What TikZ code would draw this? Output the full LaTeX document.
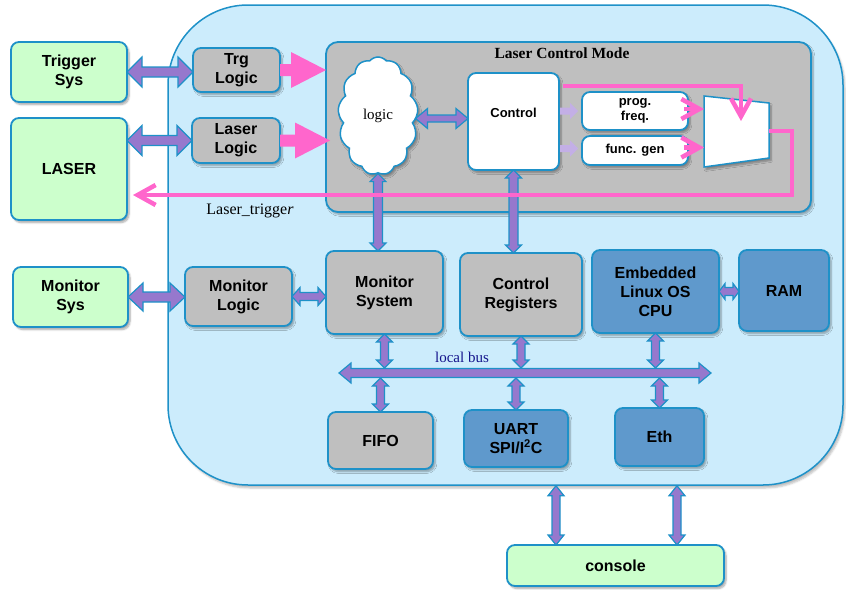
\documentclass[tikz,border=0pt]{standalone}
\usepackage{fontspec}
\setmainfont{Liberation Serif}
\setsansfont{Liberation Sans}
\usetikzlibrary{arrows.meta,calc,shapes.symbols,shadows.blur}
\definecolor{bluebrd}{RGB}{30,145,200}
\definecolor{socfill}{RGB}{204,236,252}
\definecolor{grnfill}{RGB}{204,255,204}
\definecolor{gryfill}{RGB}{191,191,191}
\definecolor{dkbfill}{RGB}{95,153,204}
\definecolor{purp}{RGB}{150,120,205}
\definecolor{pinkc}{RGB}{255,102,204}
\definecolor{lavc}{RGB}{195,175,230}
\definecolor{navyc}{RGB}{20,20,140}

% horizontal double fat arrow: style, start, end, half shaft, half head, head length
\newcommand\FatDbl[6]{\path[#1] let \p1=#2, \p2=#3 in
 (\x1,\y1) -- (\x1+#6,\y1+#5) -- (\x1+#6,\y1+#4) -- (\x2-#6,\y1+#4) -- (\x2-#6,\y1+#5) -- (\x2,\y1)
 -- (\x2-#6,\y1-#5) -- (\x2-#6,\y1-#4) -- (\x1+#6,\y1-#4) -- (\x1+#6,\y1-#5) -- cycle;}
% vertical double fat arrow: start is upper end
\newcommand\FatDblV[6]{\path[#1] let \p1=#2, \p2=#3 in
 (\x1,\y1) -- (\x1+#5,\y1-#6) -- (\x1+#4,\y1-#6) -- (\x1+#4,\y2+#6) -- (\x1+#5,\y2+#6) -- (\x1,\y2)
 -- (\x1-#5,\y2+#6) -- (\x1-#4,\y2+#6) -- (\x1-#4,\y1-#6) -- (\x1-#5,\y1-#6) -- cycle;}
% horizontal single fat arrow
\newcommand\FatOne[6]{\path[#1] let \p1=#2, \p2=#3 in
 (\x1,\y1+#4) -- (\x2-#6,\y1+#4) -- (\x2-#6,\y1+#5) -- (\x2,\y1) -- (\x2-#6,\y1-#5) -- (\x2-#6,\y1-#4) -- (\x1,\y1-#4) -- cycle;}

\begin{document}
\begin{tikzpicture}[x=1pt,y=-1pt,
  shad/.style={blur shadow={shadow xshift=2pt, shadow yshift=-2.5pt, shadow blur steps=6, shadow opacity=35}},
  box/.style={draw=bluebrd, line width=1.8pt, rounded corners=8pt, inner sep=0pt, outer sep=0pt,
    align=center, font=\sffamily\bfseries\fontsize{16}{19}\selectfont, shad},
  grn/.style={box, fill=grnfill},
  gry/.style={box, fill=gryfill},
  dkb/.style={box, fill=dkbfill},
  wht/.style={box, fill=white, font=\sffamily\bfseries\fontsize{13}{15}\selectfont},
  sz/.style 2 args={minimum width=#1pt, minimum height=#2pt},
  dbl/.style={fill=purp, draw=bluebrd, line width=1.2pt, line join=miter},
  pinkfat/.style={fill=pinkc},
  lav/.style={fill=lavc},
  pinkline/.style={draw=pinkc, line width=4.5pt},
  pbarb/.tip={Straight Barb[length=18pt,width=20pt]},
  sbarb/.tip={Straight Barb[length=18pt,width=20pt]}
]
\useasboundingbox (0,0) rectangle (846,589);

% container
\node[draw=bluebrd, fill=socfill, line width=1.5pt, rounded corners=80pt, inner sep=0pt,
  sz={675}{480}, blur shadow={shadow xshift=2pt, shadow yshift=-3pt, shadow opacity=25}] (soc) at (505.5,245) {};

% laser control mode
\node[box, fill=gryfill, rounded corners=12pt, sz={485}{170}] (lcm) at (568.5,127) {};
\node[font=\bfseries\fontsize{15.5}{18}\selectfont] (lcmtitle) at (562,53) {Laser Control Mode};

% left boxes
\node[grn, sz={116}{60}] (trgsys) at (69,72) {Trigger\\Sys};
\node[grn, sz={116}{102}] (laser) at (69,169) {LASER};
\node[grn, sz={115}{60}] (monsys) at (70.5,297) {Monitor\\Sys};
\node[gry, sz={87}{44}] (trglogic) at (236.5,70) {Trg\\Logic};
\node[gry, sz={88}{45}] (laserlogic) at (236,140.5) {Laser\\Logic};
\node[gry, sz={107}{59}] (monlogic) at (238.5,296.5) {Monitor\\Logic};

% inside laser control mode
\node[cloud, draw=bluebrd, fill=white, line width=1.5pt, cloud puffs=13, cloud puff arc=100,
  cloud ignores aspect, sz={80}{118}, inner sep=0pt, shad, font=\fontsize{15}{18}\selectfont] (cloud) at (378,116) {logic};
\node[wht, sz={91}{97}, label={[font=\sffamily\bfseries\fontsize{13}{15}\selectfont, yshift=9pt]center:Control}] (control) at (513.5,121.5) {};
\node[wht, sz={106}{38}] (prog) at (635,111) {prog.\\freq.};
\node[wht, sz={106}{29}] (func) at (635,150.5) {func. gen};
\draw[fill=white, draw=bluebrd, line width=1.5pt, shad] (704,96) -- (769,103) -- (769,158) -- (704,167) -- cycle;
\coordinate (muxL) at (704,0);
\coordinate (muxout) at (769,131);
\coordinate (muxtop) at (741,121);
\coordinate (retC) at (792,195);

% middle row
\node[gry, sz={117}{83}] (monsystem) at (384.5,292.5) {Monitor\\System};
\node[gry, sz={122}{83}] (ctrlreg) at (521,294.5) {Control\\Registers};
\node[dkb, sz={127}{83}] (cpu) at (655.5,291.5) {Embedded\\Linux OS\\CPU};
\node[dkb, sz={90}{81}] (ram) at (784,290.5) {RAM};

% bottom row
\node[gry, sz={105}{57}] (fifo) at (380.5,440.5) {FIFO};
\node[dkb, sz={104}{57}] (uart) at (516,438.5) {UART\\SPI/I\textsuperscript{2}C};
\node[dkb, sz={89}{58}] (eth) at (659.5,437) {Eth};
\node[grn, sz={217}{41}] (console) at (615.5,565.5) {console};

% bus
\coordinate (busL) at (339,373);
\coordinate (busR) at (711,373);
\FatDbl{dbl}{(busL)}{(busR)}{4.5pt}{10pt}{12pt}
\node[text=navyc, font=\fontsize{15}{18}\selectfont] (lb) at (462,357) {local bus};

% purple connectors
\FatDbl{dbl}{(trgsys.east)}{(trglogic.west)}{5pt}{15pt}{15pt}
\FatDbl{dbl}{(laser.east |- laserlogic.west)}{(laserlogic.west)}{5pt}{15pt}{15pt}
\FatDbl{dbl}{(monsys.east)}{(monlogic.west)}{5pt}{14pt}{15pt}
\FatDbl{dbl}{(monlogic.east)}{(monsystem.west)}{4pt}{9pt}{8pt}
\FatDbl{dbl}{($(cloud.east |- control.west)+(-2,-3)$)}{($(control.west)+(0,-3)$)}{3.5pt}{10pt}{12pt}
\FatDbl{dbl}{(cpu.east)}{(ram.west)}{4pt}{8pt}{6pt}

\FatDblV{dbl}{(cloud.south)}{(cloud.south |- monsystem.north)}{4.5pt}{8pt}{8pt}
\FatDblV{dbl}{(control.south)}{(control.south |- ctrlreg.north)}{4.5pt}{8pt}{8pt}
\FatDblV{dbl}{(monsystem.south)}{($(monsystem.south |- busL)+(0,-5)$)}{4pt}{8pt}{8pt}
\FatDblV{dbl}{(ctrlreg.south)}{($(ctrlreg.south |- busL)+(0,-5)$)}{4pt}{8pt}{8pt}
\FatDblV{dbl}{(cpu.south)}{($(cpu.south |- busL)+(0,-5)$)}{4pt}{8pt}{8pt}
\FatDblV{dbl}{($(fifo.north |- busL)+(0,5)$)}{(fifo.north)}{4pt}{8pt}{8pt}
\FatDblV{dbl}{($(uart.north |- busL)+(0,5)$)}{(uart.north)}{4pt}{8pt}{8pt}
\FatDblV{dbl}{($(eth.north |- busL)+(0,5)$)}{(eth.north)}{4pt}{8pt}{8pt}

\coordinate (c1) at ($(console.north west)+(49,0)$);
\coordinate (c2) at ($(console.north east)+(-47,0)$);
\FatDblV{dbl}{(c1 |- soc.south)}{(c1)}{4pt}{8pt}{10pt}
\FatDblV{dbl}{(c2 |- soc.south)}{(c2)}{4pt}{8pt}{10pt}

% pink fat arrows
\FatOne{pinkfat}{(trglogic.east)}{(trglogic.east -| lcm.west)}{6pt}{18pt}{35pt}
\FatOne{pinkfat}{(laserlogic.east)}{($(laserlogic.east -| lcm.west)+(4,0)$)}{6pt}{18pt}{35pt}

% lavender small arrows
\FatOne{lav}{($(control.east |- prog.west)+(1,0)$)}{($(prog.west)+(-4,0)$)}{3.5pt}{8pt}{8pt}
\FatOne{lav}{($(control.east |- func.west)+(1,-2)$)}{($(func.west)+(-4,-2)$)}{3.5pt}{8pt}{8pt}

% pink lines
\coordinate (ctrlA) at ($(control.north east)+(4,13)$);
\draw[pinkline, -{pbarb}] (ctrlA) -| (muxtop);
\draw[pinkline, -{sbarb}] ($(prog.east)+(-4,-2)$) -- ($(prog.east -| muxL)+(0,-2)$);
\draw[pinkline, -{sbarb}] ($(func.east)+(-4,-3)$) -- ($(func.east -| muxL)+(0,-3)$);
\draw[pinkline, -{pbarb}] (muxout) -| (retC) -- ($(retC -| laser.east)+(6,0)$);
\node[font=\fontsize{16}{19}\selectfont] (lt) at (250,211) {Laser\_trigge\textit{r}};
\end{tikzpicture}
\end{document}
